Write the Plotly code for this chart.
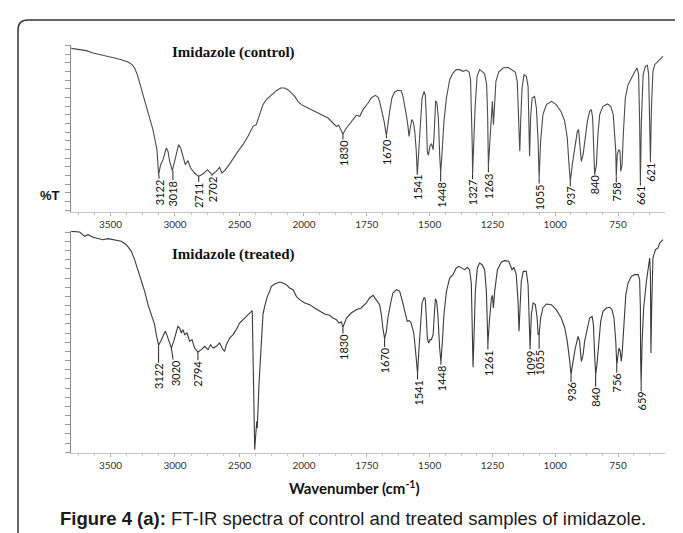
import numpy as np
import plotly.graph_objects as go

# ---------------- data ----------------
ctrl_wn = [3805, 3791, 3739, 3687, 3636, 3571, 3519, 3468, 3416, 3364, 3333, 3313, 3292, 3274, 3256, 3235,
           3209, 3189, 3171, 3158, 3145, 3140, 3132, 3127, 3111, 3093, 3067, 3054, 3041, 3021, 3003, 2990,
           2972, 2956, 2938, 2920, 2899, 2879, 2848, 2817, 2783, 2749, 2731, 2713, 2680, 2654, 2636, 2615,
           2589, 2550, 2512, 2473, 2434, 2395, 2370, 2344, 2318, 2292, 2266, 2240, 2214, 2181, 2150, 2124,
           2098, 2072, 2047, 2021, 1984, 1958, 1931, 1904, 1885, 1871, 1862, 1851, 1845, 1831, 1812, 1792,
           1778, 1765, 1745, 1732, 1716, 1705, 1699, 1692, 1681, 1672, 1666, 1659, 1650, 1639, 1626, 1613,
           1606, 1599, 1593, 1586, 1582, 1577, 1571, 1565, 1559, 1553, 1549, 1544, 1537, 1530, 1522, 1517,
           1513, 1509, 1505, 1498, 1492, 1486, 1482, 1476, 1471, 1465, 1460, 1456, 1451, 1443, 1433, 1420,
           1407, 1394, 1380, 1367, 1354, 1343, 1337, 1333, 1330, 1329, 1325, 1319, 1311, 1301, 1291, 1281,
           1273, 1269, 1266, 1261, 1256, 1250, 1246, 1242, 1236, 1225, 1208, 1188, 1172, 1159, 1151, 1145,
           1141, 1137, 1132, 1124, 1115, 1108, 1104, 1102, 1098, 1092, 1082, 1075, 1068, 1064, 1058, 1049,
           1035, 1015, 996, 976, 962, 952, 945, 940, 932, 922, 912, 907, 900, 896, 889, 883,
           872, 863, 856, 851, 847, 843, 836, 830, 823, 810, 792, 779, 769, 763, 759, 757,
           753, 747, 742, 739, 734, 729, 721, 710, 697, 684, 674, 668, 664, 661, 657, 650,
           641, 633, 628, 624, 621, 617, 611, 604, 591, 577, 571]
ctrl_T = [98.4, 98.0, 97.4, 96.8, 95.4, 94.4, 93.4, 92.4, 91.4, 90.0, 88.4, 86.4, 82.4, 77.4, 72.4, 66.4,
          60.4, 54.4, 49.4, 44.4, 40.4, 37.4, 28.4, 22.4, 28.4, 31.4, 38.4, 36.4, 30.4, 24.8, 30.4, 34.4,
          40.4, 38.4, 32.4, 28.4, 30.8, 26.4, 23.4, 21.4, 22.8, 25.4, 24.0, 22.4, 24.4, 26.8, 23.4, 24.8,
          27.4, 32.4, 36.4, 40.4, 45.4, 51.4, 52.4, 58.4, 64.4, 67.4, 69.4, 71.4, 72.8, 74.4, 74.4, 73.4,
          71.4, 69.4, 66.4, 64.4, 62.4, 60.4, 58.4, 56.4, 53.4, 51.4, 52.0, 48.4, 46.8, 50.4, 54.4, 58.0,
          57.4, 61.4, 65.4, 68.4, 70.0, 68.8, 66.4, 62.4, 54.4, 45.8, 54.4, 60.4, 68.4, 72.0, 73.0, 72.8,
          69.4, 64.4, 58.4, 51.4, 45.4, 50.4, 55.4, 54.0, 48.4, 36.4, 22.4, 34.4, 52.4, 68.4, 72.4, 70.0,
          56.4, 36.4, 34.0, 40.0, 40.8, 37.4, 46.4, 66.8, 65.4, 56.4, 34.4, 23.4, 34.4, 54.4, 68.4, 79.4,
          83.4, 85.4, 85.4, 84.4, 85.2, 84.0, 79.4, 62.4, 38.4, 22.4, 38.4, 62.4, 81.4, 85.4, 84.4, 82.8,
          76.4, 58.4, 27.4, 42.4, 52.4, 66.4, 52.4, 62.4, 78.4, 84.0, 86.4, 86.8, 85.4, 84.0, 78.4, 56.4,
          36.4, 56.4, 74.4, 82.4, 81.4, 75.4, 56.4, 33.4, 56.4, 68.4, 69.4, 62.4, 42.4, 20.4, 42.4, 58.4,
          64.4, 66.4, 64.4, 60.0, 54.4, 44.4, 28.4, 18.4, 28.4, 38.4, 48.4, 49.4, 38.4, 30.4, 34.4, 42.4,
          54.4, 60.4, 61.4, 56.4, 34.4, 22.4, 28.4, 46.4, 58.4, 63.4, 64.8, 63.4, 58.4, 46.4, 36.4, 21.4,
          34.4, 37.4, 36.4, 24.4, 28.4, 46.4, 68.4, 76.4, 80.4, 84.0, 86.4, 82.4, 54.4, 17.4, 54.4, 82.4,
          87.4, 88.0, 82.4, 54.4, 30.4, 62.4, 84.4, 88.4, 90.4, 92.4, 93.4]

trt_wn = [3804, 3739, 3700, 3674, 3636, 3597, 3558, 3519, 3468, 3416, 3377, 3338, 3313, 3287, 3261, 3235,
          3209, 3183, 3158, 3145, 3132, 3127, 3111, 3093, 3075, 3059, 3041, 3028, 3010, 2990, 2977, 2964,
          2951, 2938, 2925, 2907, 2886, 2868, 2848, 2822, 2796, 2770, 2744, 2724, 2705, 2680, 2654, 2628,
          2615, 2602, 2576, 2550, 2525, 2499, 2473, 2447, 2421, 2401, 2395, 2390, 2386, 2382, 2374, 2366,
          2362, 2357, 2349, 2343, 2331, 2318, 2305, 2284, 2266, 2253, 2227, 2189, 2163, 2137, 2111, 2085,
          2059, 2034, 1997, 1977, 1958, 1938, 1918, 1898, 1885, 1871, 1861, 1851, 1845, 1831, 1812, 1792,
          1772, 1752, 1739, 1725, 1716, 1708, 1699, 1692, 1686, 1679, 1672, 1666, 1655, 1646, 1632, 1619,
          1610, 1599, 1589, 1582, 1575, 1570, 1563, 1557, 1551, 1548, 1542, 1536, 1530, 1522, 1517, 1513,
          1509, 1504, 1498, 1493, 1486, 1482, 1477, 1472, 1467, 1460, 1455, 1449, 1443, 1433, 1420, 1407,
          1394, 1384, 1371, 1360, 1350, 1341, 1334, 1330, 1327, 1323, 1318, 1310, 1301, 1291, 1281, 1274,
          1270, 1268, 1261, 1254, 1250, 1246, 1241, 1230, 1214, 1201, 1185, 1177, 1172, 1164, 1155, 1148,
          1144, 1140, 1135, 1127, 1115, 1108, 1104, 1100, 1095, 1088, 1079, 1072, 1068, 1064, 1058, 1049,
          1035, 1015, 996, 976, 962, 952, 942, 937, 929, 920, 909, 903, 896, 889, 883, 872,
          863, 853, 848, 843, 839, 834, 827, 819, 810, 796, 783, 774, 766, 759, 755, 750,
          746, 741, 737, 733, 726, 719, 710, 697, 684, 670, 664, 661, 660, 658, 654, 648,
          637, 628, 624, 621, 620, 619, 616, 611, 601, 591, 584, 571]
trt_T = [133.0, 132.6, 130.0, 131.0, 129.4, 128.6, 128.0, 128.6, 128.0, 127.0, 125.0, 121.0, 116.0, 110.0, 104.0, 97.0,
         89.0, 83.0, 77.0, 71.0, 66.0, 64.6, 67.0, 70.0, 73.0, 70.0, 65.0, 63.0, 67.0, 73.0, 76.0, 75.0,
         72.0, 74.0, 71.0, 72.0, 67.0, 68.0, 63.0, 60.6, 62.0, 64.0, 62.0, 65.0, 63.0, 64.0, 66.0, 62.0,
         61.0, 65.0, 69.0, 71.0, 74.0, 78.0, 80.0, 82.0, 83.4, 85.4, 59.0, 29.0, 9.0, 2.0, 11.0, 19.0,
         15.0, 31.0, 41.0, 49.0, 69.0, 83.0, 88.0, 94.0, 97.0, 100.0, 101.4, 102.6, 102.0, 101.0, 99.0, 98.0,
         94.0, 92.0, 90.0, 89.0, 87.0, 85.0, 83.4, 82.6, 81.0, 80.0, 78.0, 78.6, 75.4, 81.0, 84.0, 86.0,
         87.0, 90.0, 93.0, 94.6, 93.0, 91.0, 89.0, 83.0, 75.0, 68.6, 73.0, 81.0, 90.0, 96.0, 98.0, 97.0,
         92.0, 85.0, 79.0, 79.4, 78.6, 76.0, 72.0, 63.0, 55.0, 48.0, 63.0, 79.0, 90.0, 93.4, 92.0, 81.0,
         69.0, 66.0, 68.0, 68.0, 71.0, 81.0, 92.6, 91.0, 83.0, 63.0, 54.6, 67.0, 83.0, 97.0, 105.0, 107.0,
         111.0, 112.0, 111.0, 110.0, 111.4, 110.0, 102.0, 71.0, 51.4, 71.0, 97.0, 111.0, 114.0, 113.0, 110.0, 97.0,
         73.0, 65.4, 81.0, 93.0, 94.6, 87.0, 97.0, 110.0, 114.6, 115.4, 115.0, 111.0, 110.0, 111.4, 107.0, 91.0,
         73.0, 87.0, 103.0, 109.0, 109.0, 101.0, 81.0, 63.0, 83.0, 90.0, 89.0, 81.0, 71.0, 71.4, 81.0, 87.0,
         89.4, 89.0, 86.0, 81.0, 75.0, 67.0, 55.0, 47.0, 55.0, 63.0, 70.0, 67.0, 55.0, 59.0, 67.0, 75.0,
         81.0, 82.0, 77.0, 59.0, 47.0, 53.0, 67.0, 79.0, 85.0, 87.0, 87.4, 86.0, 81.0, 67.0, 53.0, 61.0,
         63.0, 61.0, 55.0, 61.0, 77.0, 95.0, 102.0, 106.0, 107.0, 107.0, 104.0, 87.0, 57.0, 42.0, 67.0, 87.0,
         103.0, 115.0, 117.0, 107.0, 77.0, 60.0, 87.0, 117.0, 122.0, 123.0, 126.0, 128.0]

# peak labels
ctrl_lbl = ["3122", "3018", "2711", "2702", "1830", "1670", "1541", "1448", "1327", "1263",
            "1055", "937", "840", "758", "661", "621"]
ctrl_lbl_wn = [3124, 3016, 2816, 2713, 1845, 1672, 1549, 1456, 1329, 1266,
               1064, 940, 843, 757, 661, 621]
ctrl_lbl_T = [22.4, 24.8, 21.4, 22.4, 46.8, 45.8, 22.4, 23.4, 22.4, 27.4,
              20.4, 18.4, 22.4, 21.4, 17.4, 30.4]

trt_lbl = ["3122", "3020", "2794", "1830", "1670", "1541", "1448", "1261", "1099", "1055",
           "936", "840", "756", "659"]
trt_lbl_wn = [3127, 3028, 2822, 1845, 1679, 1548, 1455, 1268, 1100, 1064,
              937, 839, 755, 658]
trt_lbl_T = [64.6, 63.0, 60.6, 75.4, 68.6, 48.0, 54.6, 65.4, 63.0, 71.4,
             47.0, 47.0, 53.0, 42.0]

tick_wn = [3500, 3000, 2500, 2000, 1750, 1500, 1250, 1000, 750]
tick_text = ["3500", "3000", "2500", "2000", "1750", "1500", "1250", "1000", "750"]
minor_wn = [3750, 3625, 3375, 3250, 3125, 2875, 2750, 2625, 2375, 2250, 2125,
            1937.5, 1875, 1812.5, 1687.5, 1625, 1562.5, 1437.5, 1375, 1312.5, 1187.5, 1125, 1062.5,
            937.5, 875, 812.5, 687.5, 625]

# ---------------- layout / style ----------------
ctrl_lbl_drop = [17.5, 23, 19, 14.5, 19, 16, 12, 22, 18, 19.5, 19, 15, 10, 16, 12.5, 11]
trt_lbl_drop = [31, 25, 21.7, 19.7, 22, 20, 16.3, 19, 15, 28.3, 17.5, 22.5, 18, 18.3]
trt_lbl_shift = [0, 3.7, 0, 0, 0, 0, 0, 0, 0, 0, 0, 0, 0, 0]

W, H = 683, 533
BREAK = 2000.0      # FT-IR abscissa changes scale at 2000 cm-1
COMPRESS = 0.5135   # the region above 2000 is drawn about half as wide
WN_LEFT, WN_RIGHT = 3806, 563


def axis_pos(wn):
    wn = np.asarray(wn, dtype=float)
    return np.where(wn > BREAK, BREAK + (wn - BREAK) * COMPRESS, wn)


def px(x):
    return x / W


def py(y):
    return 1 - y / H


LINE_FONT = "Lato"
fig = go.Figure()
fig.add_trace(go.Scatter(x=axis_pos(ctrl_wn), y=ctrl_T, mode="lines",
                         line=dict(color="#4a4a4a", width=1.1), xaxis="x", yaxis="y",
                         hoverinfo="skip", showlegend=False))
fig.add_trace(go.Scatter(x=axis_pos(trt_wn), y=trt_T, mode="lines",
                         line=dict(color="#3a3a3a", width=1.1), xaxis="x2", yaxis="y2",
                         hoverinfo="skip", showlegend=False))

xdom = [px(63), px(657)]
xr = [float(axis_pos(WN_LEFT)), float(axis_pos(WN_RIGHT))]


def xaxis_style(anchor):
    return dict(domain=xdom, range=xr, anchor=anchor, showline=True, linecolor="#c4c4c4",
                linewidth=1, ticks="outside", ticklen=3, tickcolor="#b0b0b0",
                tickmode="array", tickvals=axis_pos(tick_wn), ticktext=tick_text,
                tickfont=dict(family=LINE_FONT, size=10, color="#333"),
                showgrid=False, zeroline=False, fixedrange=True,
                minor=dict(tickmode="array", tickvals=axis_pos(minor_wn), ticks="outside",
                           ticklen=2, tickcolor="#c8c8c8"))


def yaxis_style(anchor, dom, rng, t0, dt):
    return dict(domain=dom, range=rng, anchor=anchor, showline=True, linecolor="#8a8a8a",
                linewidth=1, ticks="outside", ticklen=5, tickcolor="#9a9a9a",
                tick0=t0, dtick=dt, showticklabels=False, showgrid=False, zeroline=False)


annotations = []
for t, w, v, d in zip(ctrl_lbl, ctrl_lbl_wn, ctrl_lbl_T, ctrl_lbl_drop):
    annotations.append(dict(x=float(axis_pos(w)), y=v, xref="x", yref="y", text=t,
                            showarrow=True, arrowhead=0, arrowwidth=1, arrowcolor="#222",
                            ax=0, ay=d, standoff=0, textangle=-90, borderpad=0,
                            font=dict(family=LINE_FONT, size=11, color="#111")))
for t, w, v, d, s in zip(trt_lbl, trt_lbl_wn, trt_lbl_T, trt_lbl_drop, trt_lbl_shift):
    annotations.append(dict(x=float(axis_pos(w)), y=v, xref="x2", yref="y2", text=t,
                            showarrow=True, arrowhead=0, arrowwidth=1, arrowcolor="#222",
                            ax=s, ay=d, standoff=0, textangle=-90, borderpad=0,
                            font=dict(family=LINE_FONT, size=11, color="#111")))


def paper_text(x, y, text, family, size, color="#111"):
    return dict(x=px(x), y=py(y), xref="paper", yref="paper", showarrow=False,
                xanchor="center", yanchor="middle", text=text,
                font=dict(family=family, size=size, color=color))


annotations += [
    paper_text(225, 44, "<b>Imidazole (control)</b>", "Liberation Serif", 15),
    paper_text(225, 246.5, "<b>Imidazole (treated)</b>", "Liberation Serif", 15),
    paper_text(42, 188, "<b>%T</b>", "Liberation Sans", 13),
    paper_text(346, 479, "<b>Wavenumber (cm<sup>-1</sup>)</b>", LINE_FONT, 15),
    paper_text(345, 510,
               "<b>Figure 4 (a):</b> FT-IR spectra of control and treated samples of imidazole.",
               "Liberation Sans", 18.5, "#1a1a1a"),
]

border = ("M {a},{b} L {a},{c} Q {a},{d} {e},{d} L {f},{d} Q {g},{d} {g},{h} L {g},{b}"
          .format(a=px(10), b=py(545), c=py(22), d=py(12), e=px(20),
                  f=px(679), g=px(684), h=py(16)))

fig.update_layout(
    width=W, height=H, margin=dict(l=0, r=0, t=0, b=0),
    paper_bgcolor="white", plot_bgcolor="white", showlegend=False,
    xaxis=xaxis_style("y"),
    yaxis=yaxis_style("x", [py(204), py(37.33)], [0, 100], 6.4, 5.2),
    xaxis2=xaxis_style("y2"),
    yaxis2=yaxis_style("x2", [py(445), py(223)], [0, 133.2], 6.0, 5.5),
    annotations=annotations,
    shapes=[dict(type="path", path=border, xref="paper", yref="paper",
                 line=dict(color="#333", width=1.5), layer="above")],
)

fig.write_html("out.html")
